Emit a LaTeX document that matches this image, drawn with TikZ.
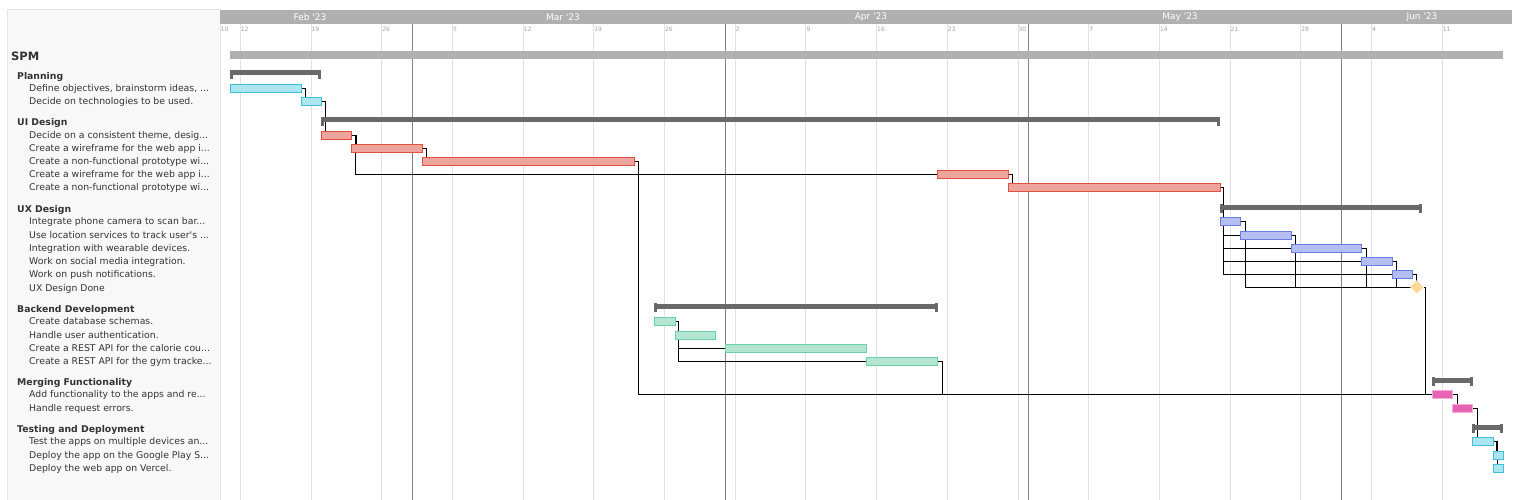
\documentclass[tikz,border=0pt]{standalone}
\usepackage{fontspec}
\setmainfont{DejaVu Sans}
\usetikzlibrary{shapes.geometric}
\definecolor{ctext}{RGB}{51,51,51}
\definecolor{cpanel}{RGB}{248,248,248}
\definecolor{cpanelline}{RGB}{228,228,228}
\definecolor{chead}{RGB}{176,176,176}
\definecolor{cweek}{RGB}{226,226,226}
\definecolor{cmonth}{RGB}{130,130,130}
\definecolor{cday}{RGB}{160,160,160}
\definecolor{cgroup}{RGB}{105,105,105}
\definecolor{cplanfill}{RGB}{171,229,240}
\definecolor{cplanline}{RGB}{63,192,216}
\definecolor{cuifill}{RGB}{236,164,156}
\definecolor{cuiline}{RGB}{224,80,64}
\definecolor{cuxfill}{RGB}{180,190,240}
\definecolor{cuxline}{RGB}{104,124,224}
\definecolor{cbefill}{RGB}{178,230,208}
\definecolor{cbeline}{RGB}{110,208,168}
\definecolor{cmffill}{RGB}{230,100,180}
\definecolor{cmfline}{RGB}{248,170,220}
\definecolor{cdone}{RGB}{253,216,150}
\definecolor{cdoneline}{RGB}{253,228,180}
\pgfdeclarelayer{grid}
\pgfdeclarelayer{links}
\pgfsetlayers{grid,links,main}
\newcommand{\dpos}[1]{220+10.1*(#1)}
\newcommand{\taskrow}[6]{%
  \node[tasklabel] (#2-l) at (29,#5) {#6};
  \node[taskbar, #1, minimum width={10.1*(#4-(#3))}] (#2) at ({\dpos{#3}},#5) {};}
\newcommand{\grouprow}[6]{%
  \node[grouplabel] (#1-l) at (17,#6) {#5};
  \node[summbar, minimum width={10.1*(#3-(#2))}] (#1) at ({\dpos{#2}},#4) {};
  \fill[cgroup] (#1.north west) rectangle ++(3,9);
  \fill[cgroup] (#1.north east) rectangle ++(-3,9);}

\begin{document}
\begin{tikzpicture}[x=1pt, y=-1pt,
    tasklabel/.style={anchor=west, inner sep=0pt, text=ctext, font=\fontsize{9.3}{10}\selectfont,
                      text height=8pt, text depth=0.5pt},
    grouplabel/.style={tasklabel, font=\fontsize{9.3}{10}\selectfont\bfseries},
    taskbar/.style={anchor=west, inner sep=0pt, minimum height=8pt, line width=0.8pt},
    plan/.style={fill=cplanfill, draw=cplanline},
    uid/.style={fill=cuifill, draw=cuiline},
    uxd/.style={fill=cuxfill, draw=cuxline},
    bed/.style={fill=cbefill, draw=cbeline},
    mfd/.style={fill=cmffill, draw=cmfline},
    summbar/.style={anchor=west, inner sep=0pt, minimum height=5pt, fill=cgroup},
    dep/.style={draw=black, line width=0.8pt},
    weekline/.style={draw=cweek, line width=0.8pt},
    monthline/.style={draw=cmonth, line width=0.8pt},
    daylbl/.style={anchor=west, inner sep=0.5pt, text=cday, font=\fontsize{6}{7}\selectfont},
    monthlbl/.style={inner sep=0pt, text=white, font=\fontsize{9}{10}\selectfont}]
  \useasboundingbox (0,0) rectangle (1522,500);

  \begin{pgfonlayer}{grid}
    \fill[cpanel] (7,10) rectangle (220,500);
    \draw[cpanelline, line width=1pt] (7,500) -- (7,10) -- (220,10) -- (220,500);
    \fill[chead] (220,10) rectangle (1512,24);
    \node[daylbl] (d0) at (220,29) {10};
    \foreach \d/\t in {2/12,9/19,16/26,23/5,30/12,37/19,44/26,51/2,58/9,65/16,
                       72/23,79/30,86/7,93/14,100/21,107/28,114/4,121/11} {
      \draw[weekline] ({\dpos{\d}},24) -- ({\dpos{\d}},500);
      \node[daylbl] (d\d) at ({\dpos{\d}},29) {\t};
    }
    \foreach \d in {19,50,80,111}
      \draw[monthline] ({\dpos{\d}},24) -- ({\dpos{\d}},500);
    \node[monthlbl] (feb) at (310,17) {Feb \textquotesingle 23};
    \node[monthlbl] (mar) at (563,17) {Mar \textquotesingle 23};
    \node[monthlbl] (apr) at (871,17) {Apr \textquotesingle 23};
    \node[monthlbl] (may) at (1180,17) {May \textquotesingle 23};
    \node[monthlbl] (jun) at (1422,17) {Jun \textquotesingle 23};
  \end{pgfonlayer}

  \node[anchor=west, inner sep=0pt, text=ctext, font=\fontsize{11.5}{13}\selectfont\bfseries] (spm-l) at (11,56) {SPM};
  \node[anchor=west, inner sep=0pt, minimum height=8pt, minimum width={10.1*126}, fill=chead] (spm) at ({\dpos{1}},55) {};

  \grouprow{plan}{1}{10}{73}{Planning}{76}
  \taskrow{plan}{pl1}{1}{8}{88}{Define objectives, brainstorm ideas, ...}
  \taskrow{plan}{pl2}{8}{10}{101}{Decide on technologies to be used.}

  \grouprow{ui}{10}{99}{120}{UI Design}{122}
  \taskrow{uid}{ui1}{10}{13}{135}{Decide on a consistent theme, desig...}
  \taskrow{uid}{ui2}{13}{20}{148}{Create a wireframe for the web app i...}
  \taskrow{uid}{ui3}{20}{41}{161}{Create a non-functional prototype wi...}
  \taskrow{uid}{ui4}{71}{78}{174}{Create a wireframe for the web app i...}
  \taskrow{uid}{ui5}{78}{99}{187}{Create a non-functional prototype wi...}

  \grouprow{ux}{99}{119}{207}{UX Design}{209}
  \taskrow{uxd}{ux1}{99}{101}{221}{Integrate phone camera to scan bar...}
  \taskrow{uxd}{ux2}{101}{106}{235}{Use location services to track user\textquotesingle s ...}
  \taskrow{uxd}{ux3}{106}{113}{248}{Integration with wearable devices.}
  \taskrow{uxd}{ux4}{113}{116}{261}{Work on social media integration.}
  \taskrow{uxd}{ux5}{116}{118}{274}{Work on push notifications.}
  \node[tasklabel] (uxdone-l) at (29,288) {UX Design Done};
  \node[diamond, inner sep=0pt, minimum width=13pt, minimum height=13pt, fill=cdone, draw=cdoneline, line width=0.6pt] (uxdone) at ({\dpos{118.5}},287) {};

  \grouprow{be}{43}{71}{306}{Backend Development}{309}
  \taskrow{bed}{be1}{43}{45}{321}{Create database schemas.}
  \taskrow{bed}{be2}{45}{49}{335}{Handle user authentication.}
  \taskrow{bed}{be3}{50}{64}{348}{Create a REST API for the calorie cou...}
  \taskrow{bed}{be4}{64}{71}{361}{Create a REST API for the gym tracke...}

  \grouprow{mf}{120}{124}{380}{Merging Functionality}{382}
  \taskrow{mfd}{mf1}{120}{122}{394}{Add functionality to the apps and re...}
  \taskrow{mfd}{mf2}{122}{124}{408}{Handle request errors.}

  \grouprow{td}{124}{127}{427}{Testing and Deployment}{429}
  \taskrow{plan}{td1}{124}{126}{441}{Test the apps on multiple devices an...}
  \taskrow{plan}{td2}{126}{127}{455}{Deploy the app on the Google Play S...}
  \taskrow{plan}{td3}{126}{127}{468}{Deploy the web app on Vercel.}

  \begin{pgfonlayer}{links}
    \draw[dep] (pl1.east) -- ++(4,0) |- (pl2.west);
    \draw[dep] (pl2.east) -- ++(4,0) |- (ui1.west);
    \draw[dep] (ui1.east) -- ++(4,0) |- (ui2.west);
    \draw[dep] (ui1.east) -- ++(3,0) |- (ui4.west);
    \draw[dep] (ui2.east) -- ++(4,0) |- (ui3.west);
    \draw[dep] (ui3.east) -- ++(3,0) |- (mf1.west);
    \draw[dep] (ui4.east) -- ++(4,0) |- (ui5.west);
    \foreach \k in {1,...,5}
      \draw[dep] (ui5.east) -- ++(3,0) |- (ux\k.west);
    \foreach \k in {1,...,5}
      \draw[dep] (ux\k.east) -- ++(4,0) |- (uxdone.west);
    \draw[dep] (uxdone.east) -- ++(2,0) |- (mf1.west);
    \foreach \k in {2,3,4}
      \draw[dep] (be1.east) -- ++(3,0) |- (be\k.west);
    \draw[dep] (be4.east) -- ++(4,0) |- (mf1.west);
    \draw[dep] (mf1.east) -- ++(4,0) |- (mf2.west);
    \draw[dep] (mf2.east) -- ++(4,0) |- (td1.west);
    \draw[dep] (td1.east) -- ++(3,0) |- (td2.west);
    \draw[dep] (td1.east) -- ++(4,0) |- (td3.west);
  \end{pgfonlayer}
\end{tikzpicture}
\end{document}
